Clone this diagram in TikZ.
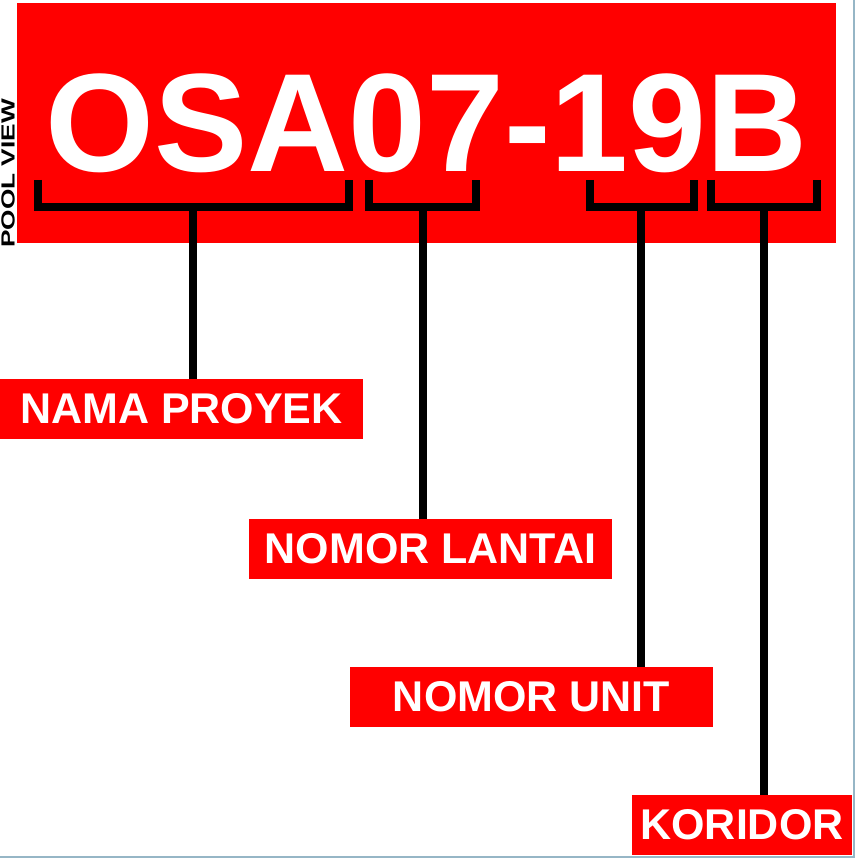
\documentclass[tikz,border=0pt]{standalone}
\usepackage{fontspec}
\setmainfont{Liberation Sans}
\usepackage{tikz}
\usetikzlibrary{positioning}
\definecolor{signred}{RGB}{255,0,0}
\definecolor{framegray}{RGB}{150,182,198}

\begin{document}
\begin{tikzpicture}[x=1pt,y=-1pt,
    lbl/.style={fill=signred,text=white,font=\fontsize{43}{43}\selectfont\bfseries,
      minimum width=363pt,minimum height=60pt,inner sep=0pt},
    brk/.style={line width=8pt,black},
    stem/.style={line width=7.5pt,black}]
  \useasboundingbox (0,0) rectangle (855,858);
  \node[fill=signred,text=white,font=\fontsize{140}{140}\selectfont\bfseries,
    minimum width=819pt,minimum height=240pt,inner sep=0pt] (code) at (426.5,123) {OSA07-19B};
  \node[rotate=90,xscale=1.38,anchor=base,inner sep=0pt,font=\fontsize{19}{19}\selectfont\bfseries] (pool) at (14.5,173.5) {POOL VIEW};
  \foreach \a/\b/\m/\n in {38/349/193/b1, 369/476/423/b2, 590/694/641/b3, 711/817/764/b4} {
    \draw[brk] (\a,180) -- (\a,207) -- (\b,207) -- (\b,180);
    \coordinate (\n) at (\m,207);
  }
  \node[lbl] (nama) at (181.5,409) {NAMA PROYEK};
  \node[lbl] (lantai) at (430.5,549) {NOMOR LANTAI};
  \node[lbl] (unit) at (531.5,697) {NOMOR UNIT};
  \node[lbl,minimum width=220pt] (koridor) at (742,825) {KORIDOR};
  \draw[stem] (b1) -- (b1 |- nama.north);
  \draw[stem] (b2) -- (b2 |- lantai.north);
  \draw[stem] (b3) -- (b3 |- unit.north);
  \draw[stem] (b4) -- (b4 |- koridor.north);
  \draw[framegray,line width=2.5pt] (854,0) -- (854,857) -- (0,857);
\end{tikzpicture}
\end{document}
